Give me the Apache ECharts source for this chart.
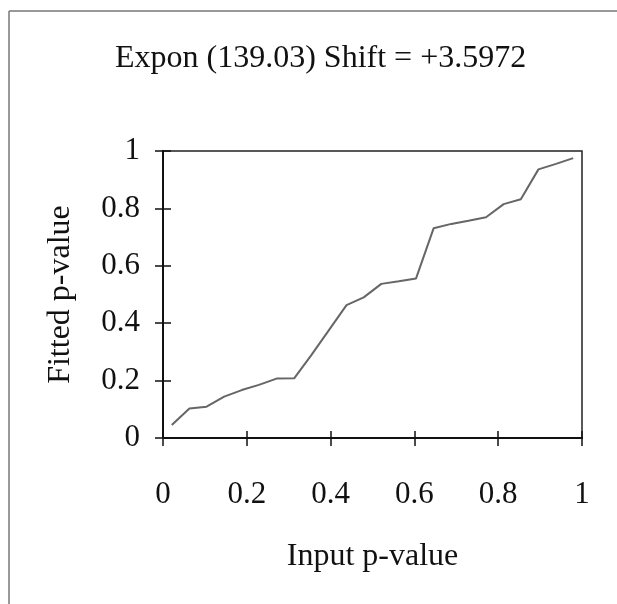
<!DOCTYPE html>
<html>
<head>
<meta charset="utf-8">
<script src="https://cdn.jsdelivr.net/npm/echarts@6/dist/echarts.min.js"></script>
<style>
  html, body { margin: 0; padding: 0; background: #fff; }
  #chart { width: 617px; height: 604px; }
</style>
</head>
<body>
<div id="chart"></div>
<script>
// P-P plot: input p-values against fitted p-values
const titleText = 'Expon (139.03) Shift = +3.5972';
const inputP = [0.021, 0.063, 0.104, 0.146, 0.188, 0.229, 0.271, 0.313, 0.354, 0.396, 0.438, 0.479,
                0.521, 0.563, 0.604, 0.646, 0.688, 0.729, 0.771, 0.813, 0.854, 0.896, 0.938, 0.979];
const fittedP = [0.045, 0.103, 0.109, 0.144, 0.167, 0.185, 0.207, 0.208, 0.289, 0.376, 0.463, 0.490,
                 0.537, 0.546, 0.556, 0.731, 0.746, 0.757, 0.769, 0.815, 0.832, 0.936, 0.955, 0.975];
const tickValues = [0, 0.2, 0.4, 0.6, 0.8, 1];

const points = inputP.map((x, i) => [x, fittedP[i]]);
const FONT = '"Liberation Serif", "Times New Roman", serif';
const fmt = v => String(+v.toFixed(1));

function valueAxis(extra) {
  return Object.assign({
    type: 'value',
    min: tickValues[0],
    max: tickValues[tickValues.length - 1],
    interval: 0.2,
    splitLine: { show: false },
    axisLine: { show: true, onZero: false, lineStyle: { color: '#111', width: 2 } },
    axisTick: { show: true, length: 8, lineStyle: { color: '#111', width: 1.5 } }
  }, extra);
}

const chart = echarts.init(document.getElementById('chart'), null, { renderer: 'canvas' });
chart.setOption({
  backgroundColor: '#fff',
  animation: false,
  title: {
    text: titleText,
    left: 110,
    top: 38,
    textStyle: { fontFamily: FONT, fontSize: 32, fontWeight: 'normal', color: '#111' }
  },
  graphic: [
    { type: 'line', shape: { x1: 9, y1: 11, x2: 617, y2: 11 }, style: { stroke: '#777', lineWidth: 1.5 } },
    { type: 'line', shape: { x1: 9, y1: 11, x2: 9, y2: 604 }, style: { stroke: '#777', lineWidth: 1.5 } }
  ],
  grid: {
    left: 163, right: 35, top: 151, bottom: 166,
    show: true, borderColor: '#222', borderWidth: 1.5, backgroundColor: 'transparent'
  },
  xAxis: [
    valueAxis({
      position: 'bottom',
      name: 'Input p-value',
      nameLocation: 'middle',
      nameGap: 103,
      nameTextStyle: { fontFamily: FONT, fontSize: 32, color: '#111' },
      axisLabel: { fontFamily: FONT, fontSize: 31, color: '#111', margin: 41, formatter: fmt }
    }),
    valueAxis({
      position: 'bottom',
      axisTick: { show: true, inside: true, length: 7, lineStyle: { color: '#111', width: 1.5 } },
      axisLabel: { show: false }
    })
  ],
  yAxis: [
    valueAxis({
      position: 'left',
      name: 'Fitted p-value',
      nameLocation: 'middle',
      nameGap: 86,
      nameTextStyle: { fontFamily: FONT, fontSize: 32, color: '#111' },
      axisLabel: { fontFamily: FONT, fontSize: 31, color: '#111', margin: 23, padding: [9, 0, 0, 0], formatter: fmt }
    }),
    valueAxis({
      position: 'left',
      axisTick: { show: true, inside: true, length: 8, lineStyle: { color: '#111', width: 1.5 } },
      axisLabel: { show: false }
    })
  ],
  series: [{
    type: 'line',
    xAxisIndex: 0,
    yAxisIndex: 0,
    data: points,
    showSymbol: false,
    lineStyle: { color: '#666', width: 2 },
    silent: true
  }]
});
</script>
</body>
</html>
